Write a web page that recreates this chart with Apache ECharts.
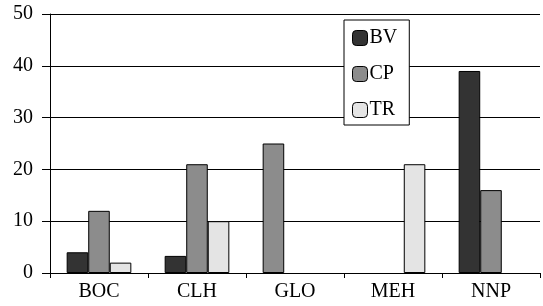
<!DOCTYPE html>
<html>
<head>
<meta charset="utf-8">
<script src="https://cdn.jsdelivr.net/npm/echarts@6/dist/echarts.min.js"></script>
<style>
    html, body { margin: 0; padding: 0; background: #fff; }
    #chart { width: 543px; height: 306px; }
</style>
</head>
<body>
<div id="chart"></div>
<script>
// 数据
const categories = ['BOC', 'CLH', 'GLO', 'MEH', 'NNP'];
const bvValues = [4, 3.3, null, null, 39];
const cpValues = [12, 21, 25, null, 16];
const trValues = [2, 10, null, 21, null];
const yTicks = [0, 10, 20, 30, 40, 50];

const colors = { BV: '#333333', CP: '#8c8c8c', TR: '#e4e4e4' };

// In the source, GLO's single CP bar sits in the first slot of its group
const slotShift = (i) => bvValues[i] == null && trValues[i] == null && cpValues[i] != null;

const bvData = bvValues.map((v, i) => slotShift(i)
    ? { value: cpValues[i], itemStyle: { color: colors.CP } }
    : v);
const cpData = cpValues.map((v, i) => slotShift(i) ? null : v);

const font = 'Liberation Serif';
const fontSize = 20;

const renderChart = (chartId) => {
    const chart = echarts.init(document.getElementById(chartId));
    const barStyle = (c) => ({ color: c, borderColor: '#000', borderWidth: 1 });
    const option = {
        animation: false,
        textStyle: { fontFamily: font },
        grid: { left: 50, right: 3, top: 14, bottom: 33, containLabel: false },
        legend: {
            orient: 'vertical',
            left: 344,
            top: 20,
            padding: [8, 12, 5, 8],
            itemWidth: 15,
            itemHeight: 15,
            itemGap: 16,
            backgroundColor: '#fff',
            borderColor: '#000',
            borderWidth: 1,
            itemStyle: { borderColor: '#000', borderWidth: 1 },
            textStyle: { fontFamily: font, fontSize: fontSize, color: '#000', padding: [0, 0, 0, -3] },
            data: ['BV', 'CP', 'TR']
        },
        xAxis: {
            type: 'category',
            data: categories,
            axisLine: { show: true, lineStyle: { color: '#000', width: 1 } },
            axisTick: { show: true, alignWithLabel: false, length: 5, lineStyle: { color: '#000' } },
            axisLabel: { color: '#000', fontFamily: font, fontSize: fontSize, margin: 9 },
            splitLine: { show: false }
        },
        yAxis: {
            type: 'value',
            min: yTicks[0],
            max: yTicks[yTicks.length - 1],
            interval: 10,
            axisLine: { show: true, lineStyle: { color: '#000', width: 1 } },
            axisTick: { show: true, inside: false, length: 8, lineStyle: { color: '#000' } },
            axisLabel: { color: '#000', fontFamily: font, fontSize: fontSize, margin: 17 },
            splitLine: { show: true, lineStyle: { color: '#000', width: 1 } }
        },
        series: [
            { name: 'BV', type: 'bar', data: bvData, itemStyle: barStyle(colors.BV), barGap: '0%', barCategoryGap: '34%' },
            { name: 'CP', type: 'bar', data: cpData, itemStyle: barStyle(colors.CP), barGap: '0%', barCategoryGap: '34%' },
            { name: 'TR', type: 'bar', data: trValues, itemStyle: barStyle(colors.TR), barGap: '0%', barCategoryGap: '34%' }
        ]
    };
    chart.setOption(option);
};

renderChart('chart');
</script>
</body>
</html>
